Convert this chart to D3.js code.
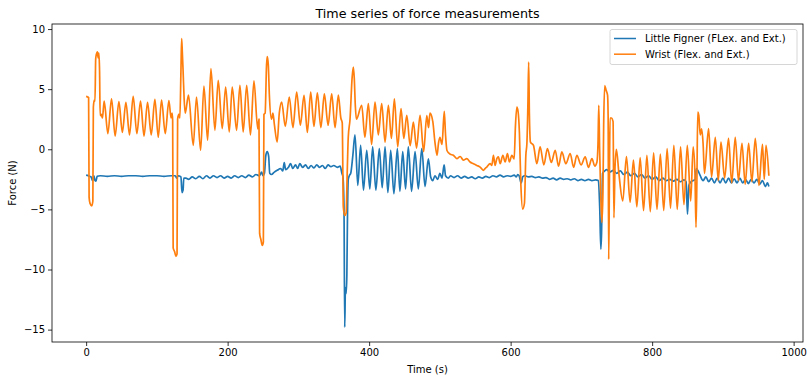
<!DOCTYPE html>
<html>
<head>
<meta charset="utf-8">
<script src="https://cdn.jsdelivr.net/npm/d3@7"></script>
<style>
  body { margin: 0; background: #fff; }
  text { font-family: "DejaVu Sans", sans-serif; fill: #000; }
</style>
</head>
<body>
<script>
// chart size
var W = 807, H = 376;
var margin = {top: 24, right: 4, bottom: 34, left: 52};

// series labels
var seriesNames = ["Little Figner (FLex. and Ext.)", "Wrist (Flex. and Ext.)"];
var seriesColors = ["#1f77b4", "#ff7f0e"];

// tick labels
var xTicks = [0, 200, 400, 600, 800, 1000];
var yTicks = [-15, -10, -5, 0, 5, 10];

// Little finger, time (s) and force (N)
var fingerTime = [0,3,5,7,9,11,12.5,14,15.5,20,30,40,50,60,70,80,90,100,110,120,126,128,130,134,135.5,137,138,
  141,145,150,155,160,165,170,175,180,185,190,195,200,205,210,215,220,225,230,235,240,245,248,250,252,254,256,258,259.5,
  262,266,270,275,278,280,282,286,289,292,296,299,302,306,310,314,318,322,326,330,334,338,342,346,350,355,359,361.5,363,
  364.5,365.5,366.5,367.5,368.5,369.5,370.5,372,374,377,380,384,388,392,396.6,401,405,409.5,414.4,418.5,422.5,426.5,
  430.5,435,439.9,443.5,447.5,451.5,455.4,460,464.9,469.5,474.4,479,483.7,487,490,493,497,500,503,506,508,512,
  515,520,525,530,535,540,545,550,555,560,565,570,575,580,585,590,595,600,605,608,610,612,615,617,620,625,630,635,
  640,645,650,655,660,665,670,675,680,685,690,695,700,705,710,715,720,724,726,727.5,728.5,730,733,736,740,745,750,
  755,760,765,770,775,780,785,790,795,800,805,810,815,820,825,830,835,840,845,848,850,852,855,858,861,862.5,865,868,
  872,876,880,884,888,892,896,900,904,908,912,916,920,924,928,932,936,940,944,948,952,956,960,963,965];
var fingerForce = [-2.15,-2.2,-2.25,-2.3,-2.6,-2.2,-2.6,-2.65,-2.25,-2.2,-2.25,-2.2,-2.25,-2.2,-2.2,-2.25,-2.2,-2.2,-2.25,-2.2,-2.2,-2.4,-2.2,-2.3,-3.6,-3.4,-2.4,
  -2.4,-2.5,-2.3,-2.45,-2.25,-2.45,-2.2,-2.4,-2.2,-2.35,-2.2,-2.4,-2.25,-2.4,-2.2,-2.35,-2.2,-2.35,-2.15,-2.3,-2.1,-2.2,-1.9,-2.2,-2.0,-0.5,-0.2,-0.6,-2.0,
  -2.1,-1.9,-1.75,-1.6,-1.8,-1.1,-1.7,-1.5,-1.2,-1.6,-1.3,-1.6,-1.2,-1.5,-1.3,-1.6,-1.35,-1.55,-1.3,-1.5,-1.35,-1.6,-1.3,-1.45,-1.35,-1.5,-1.4,-2.0,-2.3,
  -5.0,-14.8,-11.5,-12.0,-10.5,-5.0,-2.5,-2.2,-2.0,-0.5,1.2,-3.0,0.33,-3.4,-0.08,-3.3,0.2,-3.4,0.06,-3.2,0.2,-3.6,
  -0.08,-3.7,0.06,-3.5,-0.2,-3.3,0.2,-3.5,-0.2,-3.3,0.06,-3.1,-0.8,-2.3,-2.6,-2.2,-2.5,-2.0,-2.4,-1.3,-2.2,-2.4,
  -2.2,-2.35,-2.2,-2.4,-2.25,-2.4,-2.3,-2.45,-2.3,-2.4,-2.25,-2.35,-2.2,-2.3,-2.15,-2.3,-2.2,-2.25,-2.15,-2.3,-2.1,-2.2,-2.8,-2.3,-2.2,-2.3,-2.25,-2.35,
  -2.3,-2.4,-2.35,-2.5,-2.4,-2.55,-2.4,-2.5,-2.45,-2.55,-2.45,-2.6,-2.5,-2.6,-2.5,-2.6,-2.55,-2.6,-5.0,-8.3,-7.0,-2.0,-1.8,-1.7,-1.9,-1.75,-2.0,
  -1.8,-2.1,-1.9,-2.2,-2.0,-2.3,-2.1,-2.4,-2.2,-2.5,-2.3,-2.6,-2.4,-2.6,-2.5,-2.65,-2.5,-2.7,-2.55,-2.7,-5.4,-3.0,-2.7,-2.6,-2.5,-1.6,-1.8,-2.2,
  -2.6,-2.3,-2.7,-2.4,-2.8,-2.4,-2.8,-2.4,-2.8,-2.4,-2.8,-2.45,-2.8,-2.4,-2.8,-2.5,-2.85,-2.5,-2.8,-2.5,-2.9,-2.6,-3.1,-2.8,-3.1];

// Wrist, time (s) and force (N)
var wristTime = [0,2,3.5,4.2,5.5,8,9.5,10.2,11.5,12.5,13.5,14.5,16,17,18,19,19.8,21.5,23,25.5,30.7,35.9,41,46.3,51.2,56.2,61.3,
  66.5,71.7,76.9,81.8,86.8,92,97.2,101.9,106.6,111.8,117,120,121.5,122.3,123,125,127,128.5,129.3,131,132.5,134,135,136,137,
  138.5,140,144.7,151.4,156,161.8,166.5,171.7,176.4,182,186.7,192.4,197.2,202.3,206.5,212.7,217.4,222,226.9,232.3,237.2,
  242.5,244.3,245.2,247,249,250.5,251.3,253,255,256,257.5,259,262,264,266,270,273,276.4,281.5,287.1,292.3,297.6,302.8,
  308,312.7,317.4,322,326.8,331.8,336.7,342,347.1,351.8,356.5,360,362,363.5,365.5,367.5,369,370.5,373,376,377.7,379,
  380.5,382,389.5,394,398.9,403.5,408.3,413,417.8,422.5,427.2,431.5,435.7,440.4,445.1,449,453.2,458,462.5,467,472,477,
  481.5,484,486,490,493,496,498,500,503,506.2,508,510,514.4,519.1,523.9,528.6,533.2,538,542.7,547.4,552.2,556.9,561.5,
  563.9,566.3,571,573.4,575.7,578,580.5,582.7,585.2,589,592.2,595.5,598.3,601.7,605,606.8,608.8,610.6,612.4,614.5,617,
  619.5,621.5,623,624.5,625.5,626.5,628,632.3,637,641.7,647,652,657.5,663,667.7,672.4,678,684.2,689,693.6,699.5,705.4,
  710,714.9,719,722,723.5,724.6,725.8,727,729,730.5,731.5,733,735,737,737.8,738.6,739.6,740.5,742.4,744.8,746,747.5,
  749.5,753,758.5,763.7,768.9,773.6,778.4,783.1,787.9,792.6,797.4,802.1,806.9,811.6,816.4,821.2,826,830.7,835.5,840.2,
  845,849.7,854.5,858,860.5,862,863.2,864.5,866,868,870,872,874,879.8,884,889.3,893.5,897.3,902.5,908,912.5,917.5,922,
  927,931.5,936.4,941,945.8,951,956,958.5,961,965];
var wristForce = [4.4,4.35,4.3,-4.0,-4.5,-4.7,-4.3,3.5,4.1,4.0,7.5,7.9,8.1,7.6,8.0,6.5,2.8,2.9,2.6,4.0,1.3,4.2,1.1,3.97,1.4,3.9,1.2,
  4.4,1.3,4.0,1.1,3.9,1.2,4.15,1.0,4.1,1.3,4.05,2.6,3.0,2.4,-8.2,-8.5,-8.9,-8.7,2.5,2.9,2.6,6.5,9.2,8.0,6.6,
  4.2,3.0,4.5,0.33,4.35,-0.08,5.26,0.75,6.7,1.58,5.74,1.72,5.18,1.44,5.18,1.58,5.32,1.44,5.32,1.2,5.7,
  1.7,2.5,-7.0,-7.5,-8.0,-7.7,2.9,3.0,7.0,7.7,7.0,4.5,2.5,3.0,2.1,0.6,3.0,3.93,1.9,4.35,1.8,4.76,2.0,
  4.49,1.4,4.76,1.9,4.7,1.8,4.6,2.0,4.6,1.8,4.5,2.6,2.2,-4.8,-5.5,-5.3,-2.0,1.0,2.5,6.0,6.84,5.9,
  3.6,2.5,3.66,1.0,3.8,0.4,3.93,1.2,3.8,0.6,3.66,0.9,4.2,0.2,3.38,0.9,2.83,0.3,2.27,0.1,2.83,-0.2,
  2.8,1.8,3.0,2.3,0.6,-0.5,0.5,1.0,0.4,3.15,1.2,-0.1,-0.4,-0.5,-0.78,-0.6,-0.9,-0.78,-1.06,-1.2,-1.34,-1.48,-1.75,
  -1.6,-1.48,-1.2,-1.34,-0.5,-1.34,-0.78,-0.64,-1.2,-0.5,-1.06,-0.36,-1.06,-0.5,-0.8,1.94,3.5,3.1,1.4,-3.0,-4.97,
  -4.5,-0.5,0.5,4.0,7.26,3.0,0.6,0.33,-1.2,0.2,-1.3,0.06,-1.1,-0.08,-1.4,-0.22,-1.2,-0.36,-1.5,-0.5,-1.3,-0.64,
  -1.5,-0.78,-1.4,-1.06,0.5,3.66,0.0,-3.0,-6.1,-3.5,2.0,5.3,4.9,4.5,2.8,-9.16,-3.0,2.6,2.6,2.3,-5.7,-1.6,
  0.0,-2.0,-4.3,-0.6,-4.4,-0.9,-4.8,-0.7,-5.1,-0.5,-5.2,-0.3,-5.0,-0.4,-5.1,0.06,-4.9,0.33,-5.0,0.2,
  -4.6,0.33,-4.3,0.2,-2.0,-6.5,-3.0,3.1,2.8,1.2,1.7,0.5,-2.0,1.72,-2.3,1.0,-2.6,0.6,-2.4,0.9,-2.8,1.0,-2.6,
  0.5,-2.9,0.5,-2.7,0.9,-3.0,0.4,-2.5,0.33,-2.2];

var series = [
  {name: seriesNames[0], color: seriesColors[0], pts: d3.zip(fingerTime, fingerForce)},
  {name: seriesNames[1], color: seriesColors[1], pts: d3.zip(wristTime, wristForce)}
];

var svg = d3.select("body").append("svg")
  .attr("width", W)
  .attr("height", H);

// scales (matplotlib style 5% margins)
var x = d3.scaleLinear()
  .domain([-48.25, 1013.25])
  .range([margin.left, W - margin.right]);
var y = d3.scaleLinear()
  .domain([-16.03, 10.42])
  .range([H - margin.bottom, margin.top]);

// monotone keeps the oscillations rounded without overshooting
var line = d3.line()
  .curve(d3.curveMonotoneX)
  .x(function(d) { return x(d[0]); })
  .y(function(d) { return y(d[1]); });

// lines, little finger first so wrist draws on top
svg.selectAll("path.series")
  .data(series)
  .enter()
  .append("path")
  .attr("class", "series")
  .attr("d", function(d) { return line(d.pts); })
  .attr("fill", "none")
  .attr("stroke", function(d) { return d.color; })
  .attr("stroke-width", 1.7)
  .attr("stroke-linejoin", "round");

// axes
var xAxis = svg.append("g")
  .attr("transform", "translate(0," + (H - margin.bottom) + ")")
  .call(d3.axisBottom(x).tickValues(xTicks).tickSize(4).tickPadding(3).tickFormat(d3.format("d")));
var yAxis = svg.append("g")
  .attr("transform", "translate(" + margin.left + ",0)")
  .call(d3.axisLeft(y).tickValues(yTicks).tickSize(4).tickPadding(3).tickFormat(d3.format("d")));

[xAxis, yAxis].forEach(function(a) {
  a.select(".domain").remove();
  a.selectAll("line").attr("stroke", "#000").attr("stroke-width", 0.8);
  a.selectAll("text").style("font-family", "DejaVu Sans").style("font-size", "10px").attr("fill", "#000");
});

// frame
svg.append("rect")
  .attr("x", margin.left)
  .attr("y", margin.top)
  .attr("width", W - margin.left - margin.right)
  .attr("height", H - margin.top - margin.bottom)
  .attr("fill", "none")
  .attr("stroke", "#000")
  .attr("stroke-width", 0.8);

// title and labels
svg.append("text")
  .attr("x", (margin.left + W - margin.right) / 2)
  .attr("y", 18)
  .attr("text-anchor", "middle")
  .style("font-size", "12.7px")
  .text("Time series of force measurements");

svg.append("text")
  .attr("x", (margin.left + W - margin.right) / 2)
  .attr("y", 373)
  .attr("text-anchor", "middle")
  .style("font-size", "10px")
  .text("Time (s)");

svg.append("text")
  .attr("transform", "translate(16," + ((margin.top + H - margin.bottom) / 2) + ") rotate(-90)")
  .attr("text-anchor", "middle")
  .style("font-size", "10px")
  .text("Force (N)");

// legend
var legend = svg.append("g").attr("transform", "translate(610,29.5)");
legend.append("rect")
  .attr("width", 187)
  .attr("height", 35)
  .attr("rx", 2)
  .attr("fill", "#fff")
  .attr("fill-opacity", 0.8)
  .attr("stroke", "#ccc")
  .attr("stroke-width", 0.8);

var entry = legend.selectAll("g.entry")
  .data(series)
  .enter()
  .append("g")
  .attr("class", "entry")
  .attr("transform", function(d, i) { return "translate(0," + (9 + i * 15.7) + ")"; });
entry.append("line")
  .attr("x1", 4).attr("x2", 26)
  .attr("stroke", function(d) { return d.color; })
  .attr("stroke-width", 1.5);
entry.append("text")
  .attr("x", 35)
  .attr("dy", "0.35em")
  .style("font-size", "10px")
  .text(function(d) { return d.name; });
</script>
</body>
</html>
